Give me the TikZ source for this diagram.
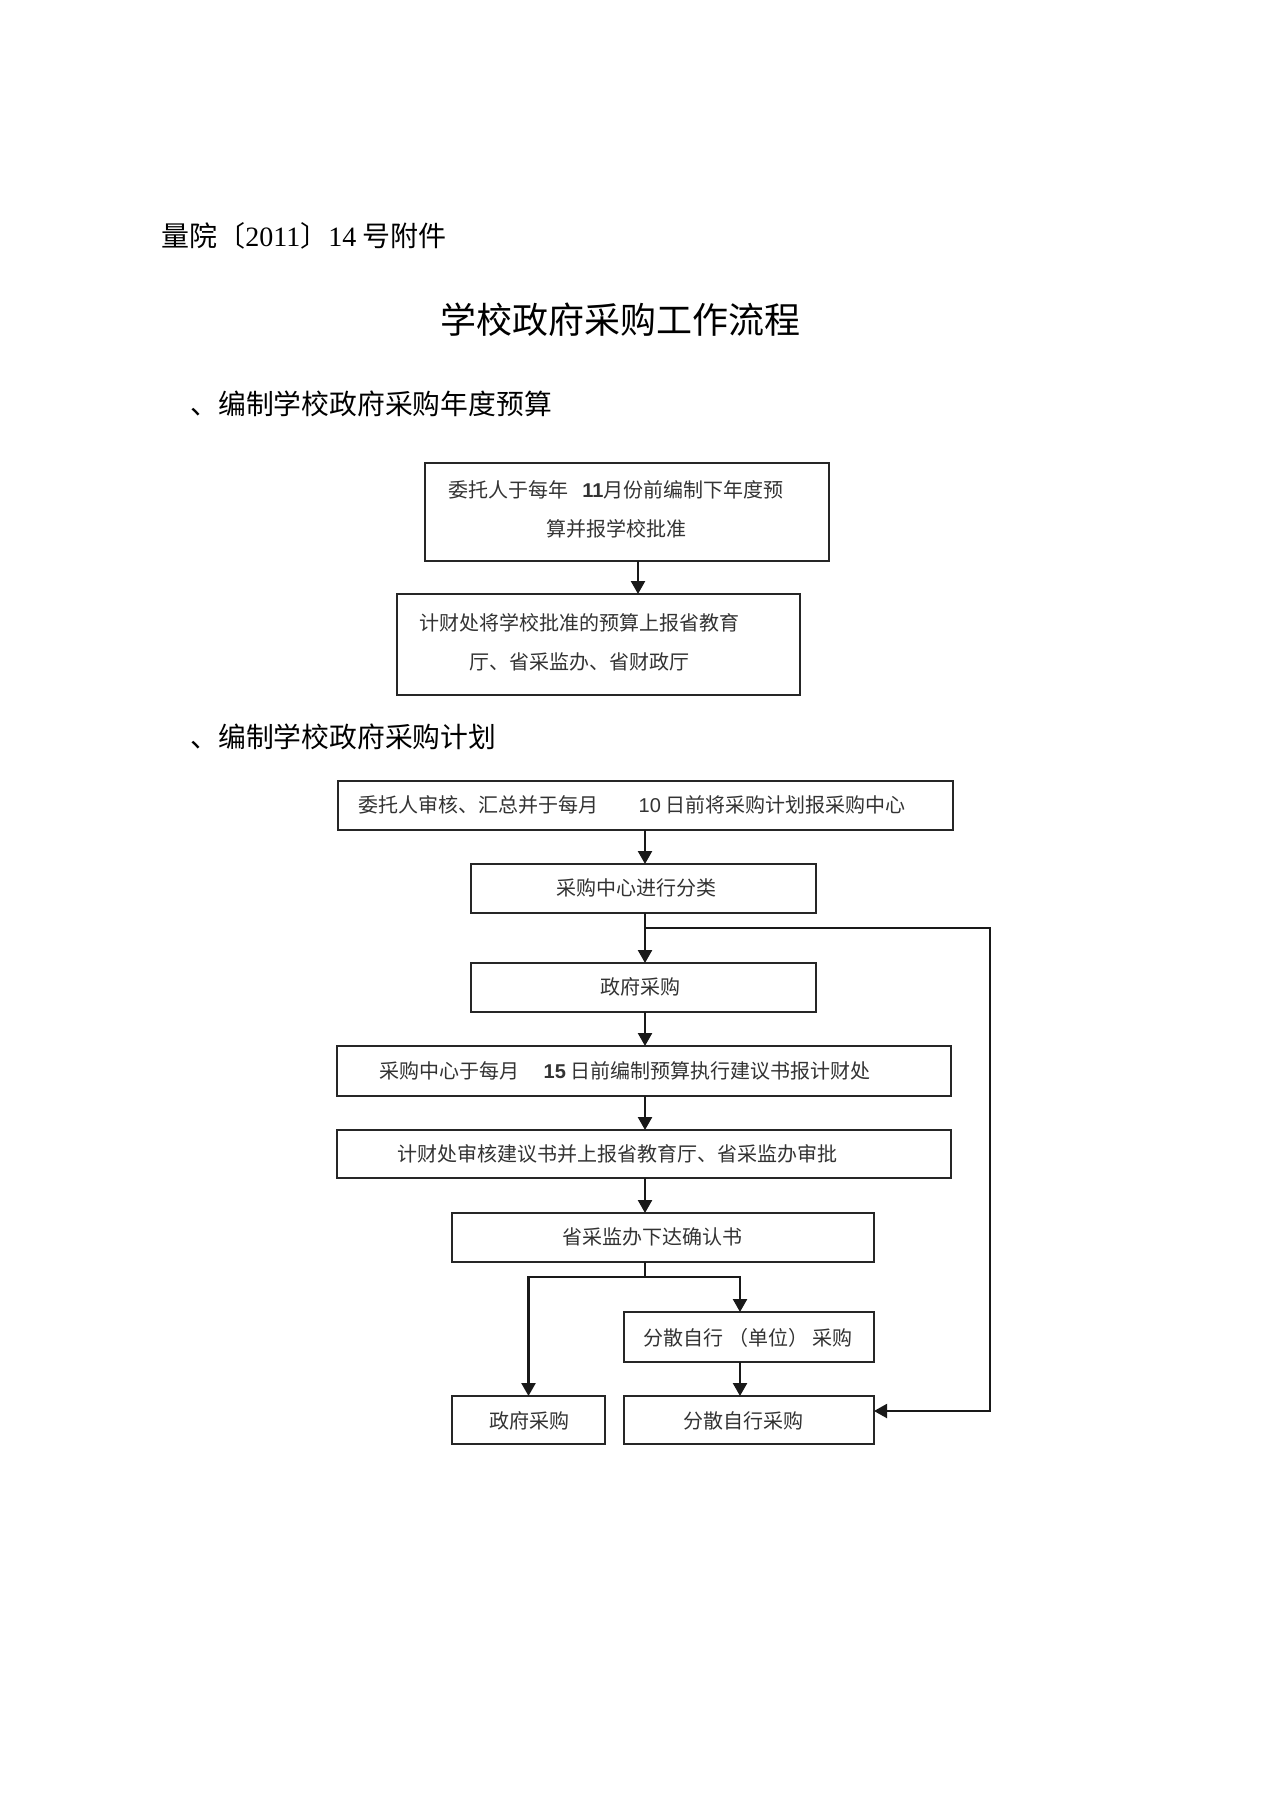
\documentclass[tikz,border=0pt]{standalone}
\usepackage{fontspec}
\setmainfont{Noto Sans CJK SC}
\newfontfamily\lsans{Liberation Sans}
\newfontfamily\lserif{Liberation Serif}
\usetikzlibrary{arrows.meta}
\begin{document}
\begin{tikzpicture}[x=0.5pt,y=-0.5pt,
  box/.style={draw=black!85, line width=1pt, inner sep=0pt, outer sep=0pt},
  thickbox/.style={box, line width=1.35pt},
  txt/.style={inner sep=0pt, font=\fontsize{10pt}{19.5pt}\selectfont, text=black!80},
  arr/.style={draw=black!90, line width=1.2pt, -{Triangle[length=6.5pt,width=7pt]}},
  ln/.style={draw=black!90, line width=1.2pt},
  head/.style={inner sep=0pt, anchor=west, text=black},
]
\useasboundingbox[fill=white] (0,0) rectangle (1274,1804);

% headings
\node[head, font=\fontsize{14pt}{16pt}\selectfont] (hdr) at (161,236) {量院〔{\lserif 2011}〕{\lserif 14} 号附件};
\node[inner sep=0pt, font=\fontsize{18pt}{20pt}\selectfont] (title) at (620,320) {学校政府采购工作流程};
\node[head, font=\fontsize{13.9pt}{16pt}\selectfont] (s1) at (190,404) {、编制学校政府采购年度预算};
\node[head, font=\fontsize{13.9pt}{16pt}\selectfont] (s2) at (190,737) {、编制学校政府采购计划};

% part 1 boxes
\node[thickbox, minimum width=202pt, minimum height=49pt] (b1) at (627,512) {};
\node[box, minimum width=201.5pt, minimum height=50.5pt, line width=1.2pt] (b2) at (598.5,644.5) {};
\node[txt, align=center] (t1) at (616,509) {委托人于每年\hspace{0.7em}{\lsans\bfseries 11}月份前编制下年度预\\算并报学校批准};
\node[txt, align=center] (t2) at (579.5,642.5) {计财处将学校批准的预算上报省教育\\厅、省采监办、省财政厅};

% part 2 boxes
\node[box, minimum width=307.5pt, minimum height=24.5pt] (A) at (645.5,805.5) {};
\node[box, minimum width=172.5pt, minimum height=24.5pt] (B) at (643.5,888.5) {};
\node[box, minimum width=172.5pt, minimum height=24.5pt] (C) at (643.5,987.5) {};
\node[thickbox, minimum width=307pt, minimum height=25pt] (D) at (644,1071) {};
\node[box, minimum width=307pt, minimum height=24pt] (E) at (644,1154) {};
\node[thickbox, minimum width=211pt, minimum height=24.5pt] (F) at (663,1237.5) {};
\node[box, minimum width=125pt, minimum height=25pt] (G) at (749,1337) {};
\node[box, minimum width=76.5pt, minimum height=24pt] (H) at (528.5,1420) {};
\node[box, line width=1.2pt, minimum width=125pt, minimum height=24pt] (I) at (749,1420) {};

\node[txt] (tA) at (632,805) {委托人审核、汇总并于每月\hspace{2em}{\lsans 10} 日前将采购计划报采购中心};
\node[txt] (tB) at (636,888) {采购中心进行分类};
\node[txt] (tC) at (640,987) {政府采购};
\node[txt] (tD) at (625,1071) {采购中心于每月\hspace{1.2em}{\lsans\bfseries 15} 日前编制预算执行建议书报计财处};
\node[txt] (tE) at (617,1154) {计财处审核建议书并上报省教育厅、省采监办审批};
\node[txt] (tF) at (652,1237) {省采监办下达确认书};
\node[txt] (tG) at (748,1338) {分散自行 （单位） 采购};
\node[txt] (tH) at (529,1421) {政府采购};
\node[txt] (tI) at (743,1421) {分散自行采购};

% coordinates
\coordinate (ax1) at (638,0);
\coordinate (ax) at (645,0);
\coordinate (j) at (645,928);
\coordinate (jr) at (990,928);
\coordinate (rb) at (990,1411);
\coordinate (sp) at (645,1277);
\coordinate (spl) at (528.5,1277);
\coordinate (spr) at (740,1277);

% connectors
\draw[arr] (b1.south -| ax1) -- (b2.north -| ax1);
\draw[arr] (A.south -| ax) -- (B.north -| ax);
\draw[arr] (B.south -| ax) -- (C.north -| ax);
\draw[arr, line width=1pt] (j) -- (jr) -- (rb) -- (I.east |- rb);
\draw[arr] (C.south -| ax) -- (D.north -| ax);
\draw[arr] (D.south -| ax) -- (E.north -| ax);
\draw[arr] (E.south -| ax) -- (F.north -| ax);
\draw[ln] (F.south -| ax) -- (sp);
\draw[arr] (sp) -- (spl) -- (H.north);
\draw[arr] (sp) -- (spr) -- (G.north -| spr);
\draw[arr] (G.south -| spr) -- (I.north -| spr);
\end{tikzpicture}
\end{document}
